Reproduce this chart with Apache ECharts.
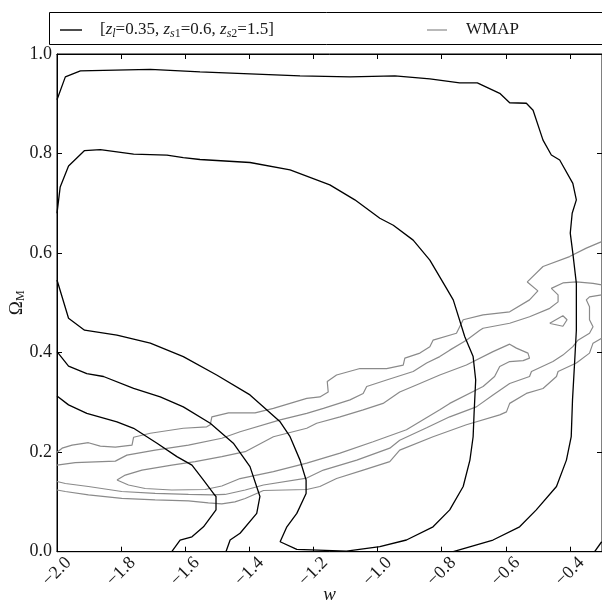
<!DOCTYPE html>
<html><head><meta charset="utf-8">
<script src="https://cdn.jsdelivr.net/npm/echarts@6/dist/echarts.min.js"></script>
<style>html,body{margin:0;padding:0;background:#fff}#c{width:602px;height:605px}</style>
</head><body><div id="c"></div>
<script>
// ---- axis settings / tick values ----
const xMin = -2.0, xMax = -0.3, xStep = 0.2;
const yMin = 0.0, yMax = 1.0, yStep = 0.2;

// ---- legend names ----
const NAME_MODEL = 'model';
const NAME_WMAP = 'WMAP';

// ---- black likelihood contours [w, Omega_M] ----
const blackOuter = [[-2.000,0.908],[-1.974,0.954],[-1.927,0.966],[-1.709,0.969],[-1.554,0.964],[-1.398,0.960],[-1.242,0.956],[-1.086,0.954],[-0.946,0.956],[-0.837,0.950],[-0.744,0.942],[-0.689,0.942],[-0.619,0.921],[-0.588,0.902],[-0.536,0.901],[-0.515,0.887],[-0.484,0.827],[-0.458,0.797],[-0.432,0.787],[-0.391,0.740],[-0.380,0.707],[-0.393,0.680],[-0.399,0.640],[-0.391,0.600],[-0.380,0.539],[-0.380,0.445],[-0.385,0.385],[-0.392,0.305],[-0.396,0.231],[-0.411,0.184],[-0.442,0.131],[-0.505,0.084],[-0.557,0.050],[-0.640,0.0235],[-0.764,0.0]];
const blackMiddle = [[-2.000,0.680],[-1.990,0.733],[-1.964,0.775],[-1.914,0.806],[-1.865,0.808],[-1.761,0.799],[-1.657,0.797],[-1.606,0.792],[-1.554,0.788],[-1.398,0.782],[-1.273,0.767],[-1.149,0.737],[-1.071,0.707],[-0.993,0.670],[-0.951,0.656],[-0.889,0.626],[-0.837,0.586],[-0.785,0.529],[-0.764,0.506],[-0.728,0.432],[-0.702,0.392],[-0.694,0.345],[-0.699,0.278],[-0.702,0.231],[-0.712,0.184],[-0.733,0.131],[-0.775,0.084],[-0.827,0.050],[-0.910,0.0235],[-0.993,0.010],[-1.097,0.001],[-1.252,0.0045],[-1.304,0.020],[-1.283,0.050],[-1.252,0.077],[-1.223,0.117],[-1.223,0.144],[-1.242,0.184],[-1.273,0.231],[-1.304,0.261],[-1.398,0.315],[-1.502,0.355],[-1.606,0.392],[-1.709,0.419],[-1.813,0.435],[-1.914,0.445],[-1.964,0.469],[-2.000,0.546]];
const blackLowB = [[-2.000,0.402],[-1.964,0.373],[-1.907,0.358],[-1.855,0.352],[-1.761,0.328],[-1.678,0.311],[-1.606,0.291],[-1.522,0.258],[-1.450,0.218],[-1.398,0.171],[-1.367,0.111],[-1.377,0.077],[-1.429,0.037],[-1.460,0.0235],[-1.473,0.0]];
const blackLowC = [[-2.000,0.313],[-1.964,0.295],[-1.907,0.278],[-1.813,0.261],[-1.761,0.248],[-1.688,0.218],[-1.626,0.191],[-1.579,0.174],[-1.543,0.144],[-1.512,0.117],[-1.504,0.111],[-1.504,0.084],[-1.543,0.050],[-1.579,0.030],[-1.616,0.0235],[-1.642,0.0]];
const blackCorner = [[-0.323,0.0],[-0.301,0.020]];

// ---- grey WMAP contours [w, Omega_M] ----
const wmap1 = [[-2.000,0.200],[-1.984,0.208],[-1.953,0.214],[-1.902,0.219],[-1.865,0.212],[-1.818,0.210],[-1.766,0.214],[-1.761,0.230],[-1.709,0.238],[-1.606,0.248],[-1.533,0.251],[-1.522,0.255],[-1.517,0.271],[-1.465,0.279],[-1.382,0.279],[-1.325,0.288],[-1.221,0.308],[-1.180,0.311],[-1.154,0.321],[-1.157,0.342],[-1.128,0.355],[-1.055,0.368],[-0.972,0.368],[-0.920,0.375],[-0.915,0.389],[-0.868,0.399],[-0.837,0.412],[-0.827,0.425],[-0.754,0.439],[-0.733,0.466],[-0.671,0.476],[-0.588,0.482],[-0.526,0.506],[-0.500,0.524],[-0.533,0.542],[-0.484,0.573],[-0.401,0.593],[-0.349,0.610],[-0.301,0.623]];
const wmap2 = [[-2.000,0.174],[-1.943,0.179],[-1.818,0.182],[-1.782,0.194],[-1.694,0.204],[-1.590,0.214],[-1.486,0.228],[-1.429,0.241],[-1.304,0.265],[-1.221,0.278],[-1.169,0.288],[-1.086,0.305],[-1.045,0.318],[-1.034,0.332],[-0.972,0.345],[-0.889,0.362],[-0.847,0.379],[-0.806,0.392],[-0.775,0.405],[-0.723,0.425],[-0.681,0.445],[-0.671,0.449],[-0.588,0.459],[-0.526,0.472],[-0.463,0.489],[-0.437,0.502],[-0.437,0.516],[-0.458,0.529],[-0.422,0.540],[-0.380,0.542],[-0.328,0.539],[-0.301,0.536]];
const wmap3 = [[-1.813,0.144],[-1.787,0.154],[-1.735,0.164],[-1.642,0.174],[-1.569,0.181],[-1.486,0.191],[-1.413,0.201],[-1.325,0.231],[-1.221,0.248],[-1.190,0.258],[-1.117,0.271],[-1.045,0.285],[-0.983,0.298],[-0.931,0.321],[-0.879,0.335],[-0.806,0.355],[-0.723,0.375],[-0.640,0.402],[-0.588,0.417],[-0.567,0.409],[-0.531,0.399],[-0.526,0.389],[-0.546,0.384],[-0.588,0.382],[-0.619,0.372],[-0.635,0.352],[-0.671,0.332],[-0.775,0.298],[-0.806,0.285],[-0.910,0.245],[-1.014,0.221],[-1.117,0.198],[-1.221,0.178],[-1.325,0.161],[-1.429,0.147],[-1.486,0.132],[-1.538,0.125],[-1.642,0.124],[-1.725,0.127],[-1.777,0.134],[-1.813,0.144]];
const wmap4 = [[-2.000,0.141],[-1.974,0.137],[-1.902,0.131],[-1.798,0.121],[-1.694,0.117],[-1.590,0.115],[-1.517,0.114],[-1.476,0.115],[-1.413,0.124],[-1.356,0.134],[-1.221,0.148],[-1.169,0.164],[-1.065,0.184],[-0.962,0.208],[-0.931,0.224],[-0.847,0.249],[-0.775,0.271],[-0.692,0.291],[-0.640,0.315],[-0.588,0.338],[-0.526,0.352],[-0.520,0.362],[-0.453,0.382],[-0.422,0.395],[-0.391,0.412],[-0.375,0.425],[-0.339,0.439],[-0.328,0.452],[-0.339,0.466],[-0.339,0.492],[-0.349,0.506],[-0.339,0.512],[-0.301,0.516]];
const wmap5 = [[-2.000,0.124],[-1.974,0.121],[-1.902,0.114],[-1.798,0.107],[-1.694,0.104],[-1.590,0.102],[-1.528,0.098],[-1.486,0.096],[-1.445,0.100],[-1.413,0.107],[-1.356,0.123],[-1.221,0.125],[-1.180,0.131],[-1.128,0.147],[-1.045,0.164],[-0.962,0.181],[-0.931,0.204],[-0.827,0.231],[-0.723,0.255],[-0.619,0.275],[-0.598,0.281],[-0.588,0.298],[-0.536,0.318],[-0.484,0.328],[-0.442,0.352],[-0.437,0.362],[-0.380,0.379],[-0.339,0.399],[-0.328,0.419],[-0.301,0.429]];
const wmapLoop = [[-0.463,0.459],[-0.422,0.474],[-0.409,0.466],[-0.422,0.453],[-0.458,0.458],[-0.463,0.459]];

const blackSets = [blackOuter, blackMiddle, blackLowB, blackLowC, blackCorner];
const greySets = [wmap1, wmap2, wmap3, wmap4, wmap5, wmapLoop];

const FONT = 'Liberation Serif';
const TXT = '#1a1a1a';
const GREY = '#8a8a8a';
const fmt1 = v => {
  const r = Math.round(v * 10) / 10;
  if (Math.abs(Math.round(r / 0.2) * 0.2 - r) > 1e-6) return '';
  return (r < 0 ? '\u2212' : '') + Math.abs(r).toFixed(1);
};

const series = [];
blackSets.forEach(d => series.push({
  name: NAME_MODEL, type: 'line', data: d, symbol: 'none', showSymbol: false, smooth: false,
  lineStyle: {color: '#000', width: 1.3}, itemStyle: {color: '#000'}, z: 3
}));
greySets.forEach(d => series.push({
  name: NAME_WMAP, type: 'line', data: d, symbol: 'none', showSymbol: false, smooth: false,
  lineStyle: {color: GREY, width: 1.2}, itemStyle: {color: GREY}, z: 2
}));

const richLeg = {
  i: {fontFamily: FONT, fontStyle: 'italic', fontSize: 17, color: TXT, lineHeight: 20},
  si: {fontFamily: FONT, fontStyle: 'italic', fontSize: 12, color: TXT, lineHeight: 10, verticalAlign: 'bottom'},
  sn: {fontFamily: FONT, fontSize: 12, color: TXT, lineHeight: 10, verticalAlign: 'bottom'}
};

const axisCommonX = {
  type: 'value', min: xMin, max: xMax, interval: xStep,
  axisLine: {show: true, onZero: false, lineStyle: {color: '#000', width: 1}},
  axisTick: {show: true, inside: true, length: 5, lineStyle: {color: '#000'}},
  splitLine: {show: false}
};
const axisCommonY = {
  type: 'value', min: yMin, max: yMax, interval: yStep,
  axisLine: {show: true, onZero: false, lineStyle: {color: '#000', width: 1}},
  axisTick: {show: true, inside: true, length: 5, lineStyle: {color: '#000'}},
  splitLine: {show: false}
};

const option = {
  backgroundColor: '#fff',
  animation: false,
  grid: {left: 57, top: 54, width: 545, height: 497.7, show: true, borderColor: '#000', borderWidth: 1,
    backgroundColor: 'transparent', containLabel: false, outerBoundsMode: 'none'},
  graphic: [{type: 'rect', shape: {x: 49.5, y: 12.5, width: 600, height: 32}, style: {fill: 'none', stroke: '#000', lineWidth: 1}, z: 10}],
  legend: [
    {show: true, data: [{name: NAME_MODEL, icon: 'rect'}], left: 55, top: 15, itemWidth: 22, itemHeight: 1.4,
     itemStyle: {color: '#000'},
     formatter: function () { return '[{i|z}{si|l}=0.35, {i|z}{si|s}{sn|1}=0.6, {i|z}{si|s}{sn|2}=1.5]'; },
     textStyle: {fontFamily: FONT, fontSize: 17, color: TXT, lineHeight: 20, padding: [0, 0, 0, 13], rich: richLeg}},
    {show: true, data: [{name: NAME_WMAP, icon: 'rect'}], left: 422, top: 15, itemWidth: 20, itemHeight: 1.2,
     itemStyle: {color: GREY},
     textStyle: {fontFamily: FONT, fontSize: 17, color: TXT, lineHeight: 20, padding: [0, 0, 0, 14]}}
  ],
  xAxis: [
    Object.assign({}, axisCommonX, {
      position: 'bottom',
      name: 'w', nameLocation: 'middle', nameGap: 34, nameMoveOverlap: false,
      nameTextStyle: {fontFamily: FONT, fontStyle: 'italic', fontSize: 19, color: TXT},
      axisLabel: {show: true, rotate: 45, align: 'center', verticalAlign: 'middle', margin: 20,
        fontFamily: FONT, fontSize: 18, color: TXT, formatter: fmt1, showMaxLabel: false}
    }),
    Object.assign({}, axisCommonX, {position: 'top', axisLabel: {show: false}})
  ],
  yAxis: [
    Object.assign({}, axisCommonY, {
      position: 'left',
      name: '{a|\u03A9}{s|M}', nameLocation: 'middle', nameGap: 30, nameRotate: 90, nameMoveOverlap: false,
      nameTextStyle: {rich: {
        a: {fontFamily: FONT, fontSize: 19, color: TXT, lineHeight: 20},
        s: {fontFamily: FONT, fontSize: 12, color: TXT, lineHeight: 10, verticalAlign: 'bottom'}
      }},
      axisLabel: {show: true, margin: 5, fontFamily: FONT, fontSize: 18, color: TXT, formatter: v => v.toFixed(1)}
    }),
    Object.assign({}, axisCommonY, {position: 'right', axisLabel: {show: false}})
  ],
  series: series
};

const chart = echarts.init(document.getElementById('c'), null, {renderer: 'canvas'});
chart.setOption(option);
</script>
</body></html>
